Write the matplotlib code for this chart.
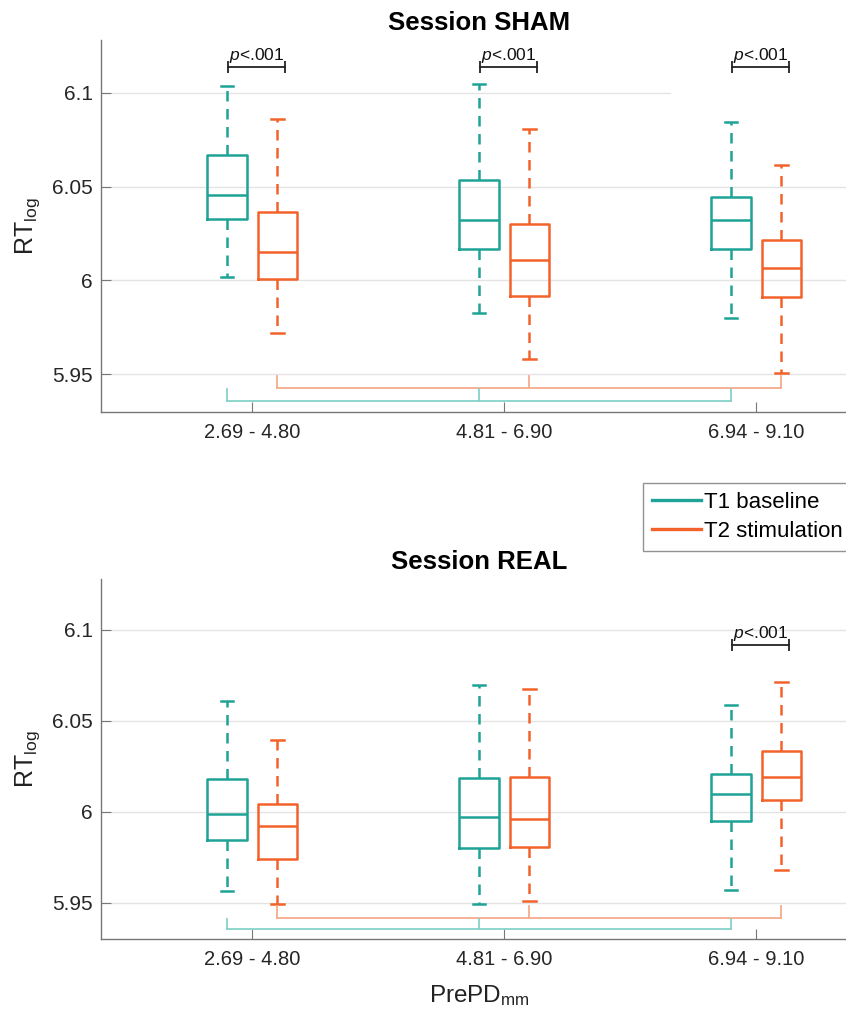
import matplotlib
matplotlib.use('Agg')
import matplotlib.pyplot as plt
from matplotlib.lines import Line2D

# PrePD bins
groups = ['2.69 - 4.80', '4.81 - 6.90', '6.94 - 9.10']

# box stats per bin: (whislo, q1, med, q3, whishi)
sham_t1 = [(6.0016, 6.0325, 6.0457, 6.0668, 6.1035),
           (5.9825, 6.0170, 6.0320, 6.0537, 6.1044),
           (5.9799, 6.0170, 6.0320, 6.0445, 6.0844)]
sham_t2 = [(5.9719, 6.0009, 6.0152, 6.0362, 6.0860),
           (5.9581, 5.9920, 6.0108, 6.0298, 6.0806),
           (5.9507, 5.9913, 6.0067, 6.0214, 6.0616)]
real_t1 = [(5.9564, 5.9844, 5.9989, 6.0178, 6.0611),
           (5.9495, 5.9802, 5.9972, 6.0183, 6.0695),
           (5.9570, 5.9949, 6.0099, 6.0208, 6.0585)]
real_t2 = [(5.9495, 5.9738, 5.9921, 6.0044, 6.0397),
           (5.9510, 5.9806, 5.9958, 6.0190, 6.0675),
           (5.9678, 6.0064, 6.0190, 6.0333, 6.0713)]

# T1 vs T2 significance per bin
sham_sig = [True, True, True]
real_sig = [False, False, True]
sham_sig_y = 6.1137
real_sig_y = 6.0918

# bracket levels under the boxes: (line y, tick top y)
sham_t2_bracket = (5.9428, 5.9490)
sham_t1_bracket = (5.9360, 5.9424)
real_t2_bracket = (5.9418, 5.9482)
real_t1_bracket = (5.9354, 5.9409)

yticks = [5.95, 6.0, 6.05, 6.1]
ytick_labels = ['5.95', '6', '6.05', '6.1']

teal = '#1fa396'
orange = '#f2622a'
teal_light = '#86d2ca'
orange_light = '#f5ab8e'

plt.rcParams['font.family'] = ['Liberation Sans', 'DejaVu Sans']
plt.rcParams['mathtext.fontset'] = 'custom'
plt.rcParams['mathtext.rm'] = 'Liberation Sans'
plt.rcParams['mathtext.it'] = 'Liberation Sans:italic'


def to_stats(rows):
    return [dict(whislo=r[0], q1=r[1], med=r[2], q3=r[3], whishi=r[4], fliers=[]) for r in rows]


def draw_panel(ax, t1, t2, sig, sig_y, b1, b2, title, cut_top_grid=False):
    pos = [1, 2, 3]
    off = 0.1
    for grid_y in yticks:
        xmax = 0.753 if (cut_top_grid and grid_y == 6.1) else 1.0
        ax.axhline(grid_y, xmax=xmax, color='#e4e4e4', lw=1.0, zorder=0)

    for stats, dx, col in [(t1, -off, teal), (t2, off, orange)]:
        ax.bxp(to_stats(stats), positions=[p + dx for p in pos], widths=0.155,
               capwidths=0.05, showfliers=False, patch_artist=False,
               boxprops=dict(color=col, lw=1.8),
               medianprops=dict(color=col, lw=1.8),
               whiskerprops=dict(color=col, lw=1.8, linestyle=(0, (4.2, 3.0))),
               capprops=dict(color=col, lw=1.8))

    # significance brackets
    for p, s in zip(pos, sig):
        if not s:
            continue
        x1, x2 = p - 0.095, p + 0.13
        ax.plot([x1, x2], [sig_y, sig_y], color='#222222', lw=1.3,
                marker='|', ms=9, mew=1.3)
        ax.text((x1 + x2) / 2, sig_y + 0.0010, '$p$<.001', ha='center',
                va='bottom', fontsize=12.5, color='#111111')

    # connector brackets under boxes
    for (ly, ty), dx, col in [(b2, off, orange_light), (b1, -off, teal_light)]:
        xs = [p + dx for p in pos]
        ax.plot([xs[0], xs[-1]], [ly, ly], color=col, lw=1.3)
        for x in xs:
            ax.plot([x, x], [ly, ty], color=col, lw=1.3)

    ax.set_xlim(0.4, 3.4)
    ax.set_ylim(5.930, 6.128)
    ax.set_xticks(pos)
    ax.set_xticklabels(groups, fontsize=14.5)
    ax.set_yticks(yticks)
    ax.set_yticklabels(ytick_labels, fontsize=15)
    ax.tick_params(direction='in', length=7, color='#777777', labelcolor='#262626')
    ax.tick_params(axis='x', pad=8)
    ax.tick_params(axis='y', pad=6)
    for side in ['top', 'right']:
        ax.spines[side].set_visible(False)
    for side in ['left', 'bottom']:
        ax.spines[side].set_color('#777777')
        ax.spines[side].set_linewidth(1.0)
    ax.set_ylabel(r'RT$_{\mathrm{log}}$', fontsize=18, color='#222222', labelpad=7)
    ax.set_title(title, fontsize=18.5, fontweight='bold', pad=7)


fig = plt.figure(figsize=(8.46, 10.21), dpi=100)
ax1 = fig.add_axes([0.1194, 0.5965, 0.8936, 0.3643])
ax2 = fig.add_axes([0.1194, 0.0803, 0.8936, 0.3526])

draw_panel(ax1, sham_t1, sham_t2, sham_sig, sham_sig_y,
           sham_t1_bracket, sham_t2_bracket, 'Session SHAM', cut_top_grid=True)
draw_panel(ax2, real_t1, real_t2, real_sig, real_sig_y,
           real_t1_bracket, real_t2_bracket, 'Session REAL')

ax2.set_xlabel(r'PrePD$_{\mathrm{mm}}$', fontsize=17.5, color='#222222', labelpad=10)

handles = [Line2D([], [], color=teal, lw=2.4), Line2D([], [], color=orange, lw=2.4)]
leg = fig.legend(handles, ['T1 baseline', 'T2 stimulation'], loc='upper left',
                 bbox_to_anchor=(643 / 846, 1 - 483 / 1021), fontsize=16,
                 frameon=True, fancybox=False, handlelength=2.2,
                 handletextpad=0.15, borderpad=0.4, labelspacing=0.35,
                 borderaxespad=0)
leg.get_frame().set_edgecolor('#777777')
leg.get_frame().set_linewidth(1.0)

fig.savefig('out.png', dpi=100)
